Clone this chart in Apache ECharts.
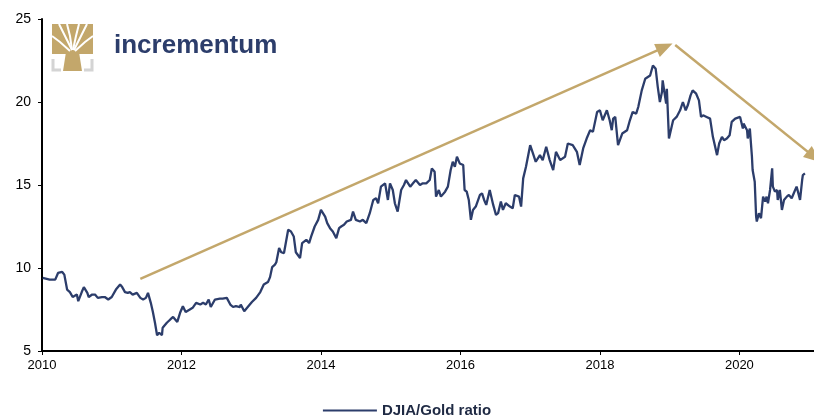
<!DOCTYPE html>
<html>
<head>
<meta charset="utf-8">
<script src="https://cdn.jsdelivr.net/npm/echarts@6/dist/echarts.min.js"></script>
<style>
  html, body { margin: 0; padding: 0; background: #fff; }
  #chart { width: 814px; height: 417px; }
</style>
</head>
<body>
<div id="chart"></div>
<script>
// decimal years
const dates = [
  2010.01, 2010.11, 2010.19, 2010.23, 2010.29, 2010.32, 2010.36, 2010.40, 2010.44, 2010.50,
  2010.52, 2010.57, 2010.60, 2010.65, 2010.67, 2010.72, 2010.76, 2010.80, 2010.86, 2010.90,
  2010.95, 2011.00, 2011.02, 2011.06, 2011.12, 2011.15, 2011.19, 2011.23, 2011.26, 2011.30,
  2011.36, 2011.41, 2011.45, 2011.49, 2011.52, 2011.56, 2011.59, 2011.62, 2011.65, 2011.68,
  2011.72, 2011.73, 2011.79, 2011.84, 2011.88, 2011.91, 2011.94, 2011.98, 2012.02, 2012.06,
  2012.12, 2012.16, 2012.21, 2012.27, 2012.31, 2012.35, 2012.39, 2012.42, 2012.48, 2012.55,
  2012.59, 2012.65, 2012.70, 2012.74, 2012.78, 2012.84, 2012.85, 2012.90, 2012.95, 2013.01,
  2013.07, 2013.13, 2013.18, 2013.24, 2013.27, 2013.30, 2013.34, 2013.36, 2013.40, 2013.43,
  2013.47, 2013.53, 2013.57, 2013.61, 2013.64, 2013.70, 2013.73, 2013.79, 2013.83, 2013.86,
  2013.91, 2013.96, 2014.00, 2014.06, 2014.09, 2014.13, 2014.17, 2014.22, 2014.26, 2014.29,
  2014.33, 2014.37, 2014.43, 2014.46, 2014.50, 2014.56, 2014.60, 2014.65, 2014.70, 2014.75,
  2014.79, 2014.82, 2014.86, 2014.92, 2014.96, 2014.99, 2015.03, 2015.06, 2015.10, 2015.15,
  2015.19, 2015.22, 2015.28, 2015.32, 2015.36, 2015.42, 2015.46, 2015.51, 2015.56, 2015.59,
  2015.63, 2015.65, 2015.69, 2015.72, 2015.78, 2015.82, 2015.86, 2015.89, 2015.92, 2015.95,
  2015.99, 2016.04, 2016.06, 2016.09, 2016.12, 2016.15, 2016.18, 2016.22, 2016.28, 2016.31,
  2016.34, 2016.37, 2016.42, 2016.47, 2016.51, 2016.54, 2016.58, 2016.61, 2016.65, 2016.71,
  2016.75, 2016.78, 2016.84, 2016.87, 2016.90, 2016.94, 2017.00, 2017.04, 2017.08, 2017.14,
  2017.18, 2017.23, 2017.28, 2017.33, 2017.37, 2017.43, 2017.50, 2017.54, 2017.61, 2017.67,
  2017.71, 2017.76, 2017.81, 2017.86, 2017.90, 2017.96, 2018.00, 2018.04, 2018.10, 2018.14,
  2018.17, 2018.19, 2018.22, 2018.26, 2018.32, 2018.39, 2018.43, 2018.47, 2018.52, 2018.55,
  2018.60, 2018.65, 2018.67, 2018.72, 2018.76, 2018.80, 2018.83, 2018.86, 2018.89, 2018.90,
  2018.95, 2018.96, 2018.99, 2019.05, 2019.10, 2019.15, 2019.19, 2019.23, 2019.26, 2019.30,
  2019.33, 2019.38, 2019.42, 2019.45, 2019.48, 2019.53, 2019.58, 2019.62, 2019.68, 2019.71,
  2019.75, 2019.78, 2019.82, 2019.86, 2019.89, 2019.94, 2020.01, 2020.05, 2020.06, 2020.11,
  2020.12, 2020.15, 2020.18, 2020.19, 2020.22, 2020.24, 2020.25, 2020.28, 2020.31, 2020.34,
  2020.37, 2020.39, 2020.41, 2020.44, 2020.47, 2020.48, 2020.51, 2020.54, 2020.55, 2020.58,
  2020.61, 2020.64, 2020.68, 2020.71, 2020.75, 2020.78, 2020.82, 2020.84, 2020.87, 2020.90,
  2020.91, 2020.94
];

const ratio = [
  9.4, 9.3, 9.3, 9.7, 9.76, 9.6, 8.7, 8.55, 8.25, 8.4,
  8.0, 8.55, 8.85, 8.5, 8.25, 8.4, 8.4, 8.2, 8.25, 8.25,
  8.1, 8.25, 8.2, 8.7, 9.0, 8.85, 8.55, 8.5, 8.55, 8.4,
  8.5, 8.2, 8.1, 8.2, 8.5, 7.9, 7.35, 6.7, 5.95, 6.1,
  5.95, 6.4, 6.7, 6.9, 7.05, 6.9, 6.75, 7.3, 7.7, 7.35,
  7.5, 7.6, 7.9, 7.8, 7.9, 7.8, 8.1, 7.65, 8.1, 8.15,
  8.15, 8.2, 7.8, 7.65, 7.7, 7.65, 7.8, 7.4, 7.65, 7.95,
  8.2, 8.55, 9.0, 9.15, 9.45, 10.05, 10.2, 10.35, 11.2, 10.95,
  10.9, 12.3, 12.2, 11.9, 10.95, 10.6, 11.5, 11.7, 11.5, 11.9,
  12.5, 12.9, 13.5, 13.1, 12.7, 12.4, 12.2, 11.8, 12.4, 12.5,
  12.6, 12.8, 12.9, 13.4, 12.9, 12.8, 12.9, 12.7, 13.3, 14.1,
  14.2, 13.9, 14.9, 15.1, 14.1, 15.1, 14.7, 13.9, 13.4, 14.7,
  15.0, 15.3, 14.9, 15.1, 15.3, 15.0, 15.1, 15.1, 15.3, 16.0,
  15.8, 14.3, 14.7, 14.3, 14.6, 14.9, 15.9, 16.4, 16.1, 16.7,
  16.3, 16.2, 14.7, 14.6, 14.1, 12.9, 13.5, 13.7, 14.4, 14.5,
  14.1, 13.8, 14.7, 13.8, 13.2, 13.3, 14.0, 13.5, 13.9, 13.7,
  13.6, 14.4, 14.3, 13.7, 15.4, 16.1, 17.4, 16.9, 16.4, 16.8,
  16.5, 17.3, 16.5, 15.9, 17.0, 16.5, 16.7, 17.5, 17.4, 17.0,
  16.2, 17.2, 17.8, 18.3, 18.2, 19.4, 19.5, 18.9, 19.5, 18.9,
  18.3, 19.0, 19.1, 17.4, 18.1, 18.3, 18.9, 19.4, 19.3, 19.7,
  20.7, 21.4, 21.3, 21.6, 22.2, 22.0, 20.9, 20.0, 20.6, 21.3,
  19.9, 20.8, 17.8, 18.9, 19.1, 19.5, 20.0, 19.5, 19.8, 20.4,
  20.7, 20.5, 20.1, 19.1, 19.2, 19.1, 19.0, 17.9, 16.8, 17.5,
  17.9, 17.7, 17.8, 18.0, 18.8, 19.0, 19.1, 18.4, 18.7, 18.3,
  17.8, 18.4, 16.7, 15.9, 15.2, 13.1, 12.8, 13.3, 13.0, 14.3,
  14.0, 14.3, 13.9, 14.7, 16.0, 14.9, 14.6, 14.7, 14.1, 14.7,
  13.5, 14.1, 14.3, 14.4, 14.2, 14.5, 14.9, 14.6, 14.1, 15.3,
  15.6, 15.7
];

const xTicks = [2010, 2012, 2014, 2016, 2018, 2020];

// trend arrows [start, end] as [year, ratio]
const arrowUp = [[2011.41, 9.34], [2018.93, 23.31]];
const arrowDown = [[2019.08, 23.43], [2021.07, 16.7]];

const navy = '#2c3d6b';
const gold = '#c3a76b';

let myChart = echarts.init(document.getElementById('chart'));
myChart.setOption({
  animation: false,
  grid: { left: 42, right: 0, top: 19, bottom: 66 },
  legend: {
    left: 'center',
    top: 398,
    icon: 'rect',
    itemWidth: 54,
    itemHeight: 2,
    itemGap: 4,
    textStyle: {
      fontFamily: 'Liberation Sans',
      fontSize: 15,
      fontWeight: 'bold',
      color: '#1f2a44'
    },
    data: ['DJIA/Gold ratio']
  },
  xAxis: {
    type: 'value',
    min: 2010,
    max: 2021.07,
    splitLine: { show: false },
    axisLine: { lineStyle: { color: '#000', width: 2 } },
    axisTick: { show: true, length: 4, customValues: xTicks, lineStyle: { color: '#000' } },
    axisLabel: {
      customValues: xTicks,
      color: '#000',
      fontFamily: 'Liberation Sans',
      fontSize: 13,
      margin: 8,
      formatter: (v) => String(Math.round(v))
    }
  },
  yAxis: {
    type: 'value',
    min: 5,
    max: 25,
    interval: 5,
    splitLine: { show: false },
    axisLine: { show: true, lineStyle: { color: '#000', width: 2 } },
    axisTick: { show: true, length: 4, lineStyle: { color: '#000' } },
    axisLabel: {
      color: '#000',
      fontFamily: 'Liberation Sans',
      fontSize: 14,
      margin: 11
    }
  },
  series: [
    {
      name: 'DJIA/Gold ratio',
      type: 'line',
      showSymbol: false,
      color: navy,
      lineStyle: { color: navy, width: 2.3 },
      data: dates.map((d, i) => [d, ratio[i]]),
      markLine: {
        silent: true,
        symbol: ['none', 'triangle'],
        symbolSize: [14, 17],
        label: { show: false },
        lineStyle: { color: gold, width: 2.5, type: 'solid' },
        data: [
          [{ coord: arrowUp[0] }, { coord: arrowUp[1] }],
          [{ coord: arrowDown[0] }, { coord: arrowDown[1] }]
        ]
      }
    }
  ],
  graphic: [
    // logo: tree crown
    { type: 'rect', shape: { x: 52, y: 24, width: 41, height: 30 }, style: { fill: gold } },
    { type: 'polyline', shape: { points: [[72, 50], [66, 38], [59, 24]] }, style: { stroke: '#fff', lineWidth: 2, fill: null } },
    { type: 'polyline', shape: { points: [[72, 50], [70, 36], [67, 24]] }, style: { stroke: '#fff', lineWidth: 2, fill: null } },
    { type: 'polyline', shape: { points: [[73, 50], [76, 36], [79, 24]] }, style: { stroke: '#fff', lineWidth: 2, fill: null } },
    { type: 'polyline', shape: { points: [[74, 50], [80, 38], [87, 24]] }, style: { stroke: '#fff', lineWidth: 2, fill: null } },
    { type: 'polyline', shape: { points: [[70, 51], [60, 42], [52, 36]] }, style: { stroke: '#fff', lineWidth: 2, fill: null } },
    { type: 'polyline', shape: { points: [[75, 51], [85, 42], [93, 36]] }, style: { stroke: '#fff', lineWidth: 2, fill: null } },
    // trunk
    { type: 'polygon', shape: { points: [[66, 52], [79, 52], [82, 71], [63, 71]] }, style: { fill: gold } },
    // grey brackets
    { type: 'polyline', shape: { points: [[53, 59], [53, 70], [61, 70]] }, style: { stroke: '#d4d4d4', lineWidth: 3, fill: null } },
    { type: 'polyline', shape: { points: [[92, 59], [92, 70], [84, 70]] }, style: { stroke: '#d4d4d4', lineWidth: 3, fill: null } },
    {
      type: 'text',
      left: 114,
      top: 33,
      style: {
        text: 'incrementum',
        fill: navy,
        font: 'bold 26px "Liberation Sans"'
      }
    }
  ]
});
</script>
</body>
</html>
